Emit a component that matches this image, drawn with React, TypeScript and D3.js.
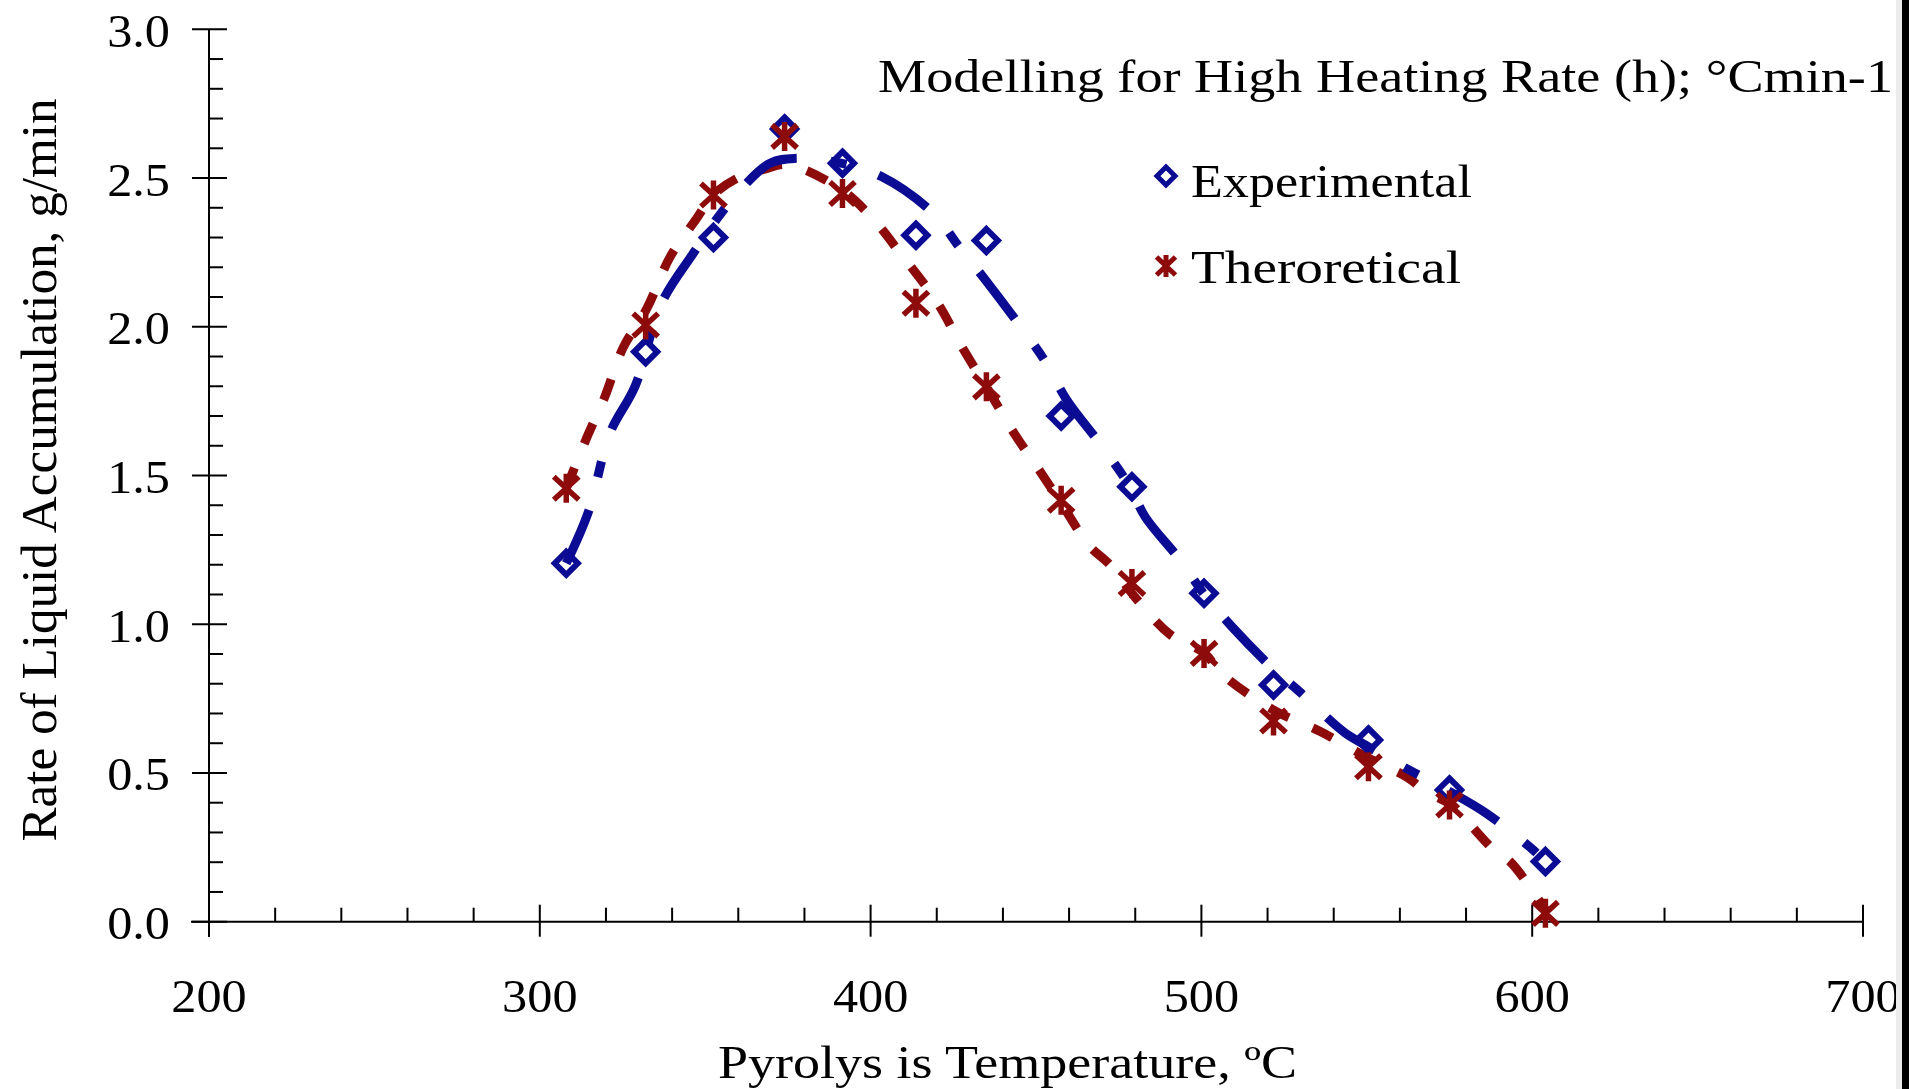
import React from "react";
import * as d3 from "d3";

// Measured points (temperature in °C, rate in g/min)
const temperatures = [308, 332, 352.5, 374, 391.5, 413.7, 435, 457.6, 479, 500.8, 521.8, 550.5, 575, 604];
const experimental = [1.205, 1.916, 2.3, 2.665, 2.55, 2.308, 2.29, 1.7, 1.462, 1.104, 0.796, 0.611, 0.443, 0.202];
const theoretical = [1.457, 2.006, 2.443, 2.64, 2.448, 2.079, 1.798, 1.417, 1.137, 0.902, 0.675, 0.521, 0.392, 0.028];

// Fitted model curves
const expFitT = [308, 314.7, 321.2, 328.8, 336.8, 346.4, 354, 361, 369.6, 377, 391, 403.3, 418.9, 427, 434.6, 445.7, 452.7, 459.3, 470.4, 478.4, 483, 494, 500.6, 509.2, 521.7, 530, 535, 543.4, 550.5, 561, 574.2, 586.2, 600.3, 603.9];
const expFitV = [1.205, 1.378, 1.642, 1.8, 2.079, 2.247, 2.37, 2.465, 2.55, 2.566, 2.55, 2.505, 2.382, 2.265, 2.159, 1.995, 1.885, 1.754, 1.592, 1.462, 1.361, 1.21, 1.104, 0.992, 0.85, 0.77, 0.717, 0.635, 0.588, 0.521, 0.443, 0.364, 0.241, 0.202];
const thFitT = [308, 314.5, 319.5, 325.2, 332.3, 339.4, 347.4, 352.4, 360.5, 368, 375, 391.3, 401, 409, 420, 428, 435, 443.5, 451, 458, 466, 472.4, 480, 490.5, 501, 506, 521.7, 535.8, 550.5, 562, 568, 576, 580, 589, 593.3, 600.3, 604];
const thFitV = [1.457, 1.635, 1.76, 1.93, 2.06, 2.235, 2.364, 2.443, 2.504, 2.53, 2.545, 2.46, 2.359, 2.247, 2.084, 1.925, 1.798, 1.64, 1.518, 1.4, 1.265, 1.199, 1.09, 0.966, 0.902, 0.835, 0.712, 0.64, 0.55, 0.487, 0.437, 0.39, 0.342, 0.235, 0.202, 0.101, 0.04];

const xTickValues = [200, 300, 400, 500, 600, 700];
const yTickValues = [0, 0.5, 1.0, 1.5, 2.0, 2.5, 3.0];

const titleText = "Modelling for High Heating Rate (h); °Cmin-1";
const legendLabels = ["Experimental", "Theroretical"];
const xTitle = "Pyrolys is Temperature, ºC";
const yTitle = "Rate of Liquid Accumulation, g/min";

const BLUE = "#0b0b94";
const RED = "#8e0b0b";
const FONT = "Liberation Serif, Times New Roman, serif";

const diamond = (r: number) => `M0,${-r}L${r},0L0,${r}L${-r},0Z`;
const star = (a: number, b: number, c: number) =>
  `M${-a},${-b}L${a},${b}M${a},${-b}L${-a},${b}M0,${-c}L0,${c}`;

export default function App() {
  React.useEffect(() => {
    document.body.style.margin = "0";
  }, []);
  const W = 1909;
  const H = 1089;
  const x = d3.scaleLinear().domain([200, 700]).range([209, 1863]);
  const y = d3.scaleLinear().domain([0, 3]).range([921.7, 29.3]);
  const line = d3
    .line<[number, number]>()
    .x((d) => x(d[0]))
    .y((d) => y(d[1]))
    .curve(d3.curveCatmullRom.alpha(0.5));

  const expFit: [number, number][] = expFitT.map((t, i) => [t, expFitV[i]]);
  const thFit: [number, number][] = thFitT.map((t, i) => [t, thFitV[i]]);

  const xMinor = d3.range(200, 701, 20).filter((v) => v % 100 !== 0);
  const yMinor = d3.range(1, 30).filter((v) => v % 5 !== 0).map((v) => v / 10);
  const y0 = y(0);
  const xAxisLeft = x(200);
  const ts = { fontFamily: FONT };

  return (
    <svg
      width={W}
      height={H}
      style={{ position: "absolute", left: 0, top: 0, display: "block", background: "#fff" }}
    >
      <rect x={0} y={0} width={W} height={H} fill="#fff" />
      {/* axes */}
      <g stroke="#000" strokeWidth={2} fill="none">
        <line x1={xAxisLeft - 18} x2={x(700)} y1={y0} y2={y0} />
        <line x1={xAxisLeft} x2={xAxisLeft} y1={y(3)} y2={y0 + 15} />
        {xTickValues.map((v) => (
          <line key={"xM" + v} x1={x(v)} x2={x(v)} y1={y0 - 17} y2={y0 + 15} />
        ))}
        {xMinor.map((v) => (
          <line key={"xm" + v} x1={x(v)} x2={x(v)} y1={y0 - 14} y2={y0} />
        ))}
        {yTickValues.map((v) => (
          <line key={"yM" + v} x1={xAxisLeft - 17} x2={xAxisLeft + 18} y1={y(v)} y2={y(v)} />
        ))}
        {yMinor.map((v) => (
          <line key={"ym" + v} x1={xAxisLeft} x2={xAxisLeft + 14} y1={y(v)} y2={y(v)} />
        ))}
      </g>
      {/* tick labels */}
      <g fontSize={47} fill="#000">
        {yTickValues.map((v) => (
          <g key={"yl" + v} transform={`translate(170,${y(v) + 17.5}) scale(1.07,1)`}>
            <text textAnchor="end" style={ts}>{v.toFixed(1)}</text>
          </g>
        ))}
        {xTickValues.map((v) => (
          <g key={"xl" + v} transform={`translate(${x(v)},1012) scale(1.07,1)`}>
            <text textAnchor="middle" style={ts}>{v}</text>
          </g>
        ))}
      </g>
      {/* axis titles */}
      <text x={718} y={1078} fontSize={47} textLength={579} lengthAdjust="spacingAndGlyphs" style={ts}>
        {xTitle}
      </text>
      <text
        transform={`translate(56,470) rotate(-90)`}
        textAnchor="middle"
        fontSize={51}
        textLength={743}
        lengthAdjust="spacingAndGlyphs"
        style={ts}
      >
        {yTitle}
      </text>
      {/* title */}
      <text x={878} y={92} fontSize={46} textLength={1015} lengthAdjust="spacingAndGlyphs" style={ts}>
        {titleText}
      </text>
      {/* model curves */}
      <path d={line(thFit) || ""} fill="none" stroke={RED} strokeWidth={9} strokeDasharray="22 26" />
      <path d={line(expFit) || ""} fill="none" stroke={BLUE} strokeWidth={9} strokeDasharray="58 34 16 34" />
      {/* markers */}
      {temperatures.map((t, i) => (
        <path
          key={"e" + i}
          d={diamond(11.5)}
          transform={`translate(${x(t)},${y(experimental[i])})`}
          fill="none"
          stroke={BLUE}
          strokeWidth={6}
        />
      ))}
      {temperatures.map((t, i) => (
        <path
          key={"t" + i}
          d={star(12.5, 11.5, 14.5)}
          transform={`translate(${x(t)},${y(theoretical[i])})`}
          fill="none"
          stroke={RED}
          strokeWidth={5.5}
        />
      ))}
      {/* legend */}
      <path d={diamond(9)} transform="translate(1166,176)" fill="none" stroke={BLUE} strokeWidth={5} />
      <text x={1191} y={197} fontSize={46} textLength={281} lengthAdjust="spacingAndGlyphs" style={ts}>
        {legendLabels[0]}
      </text>
      <path d={star(9.5, 9, 11)} transform="translate(1166,266)" fill="none" stroke={RED} strokeWidth={5} />
      <text x={1191} y={283} fontSize={46} textLength={270} lengthAdjust="spacingAndGlyphs" style={ts}>
        {legendLabels[1]}
      </text>
      {/* right border */}
      <rect x={1896} y={0} width={6} height={H} fill="#ececec" />
      <rect x={1902} y={0} width={7} height={H} fill="#000" />
    </svg>
  );
}
